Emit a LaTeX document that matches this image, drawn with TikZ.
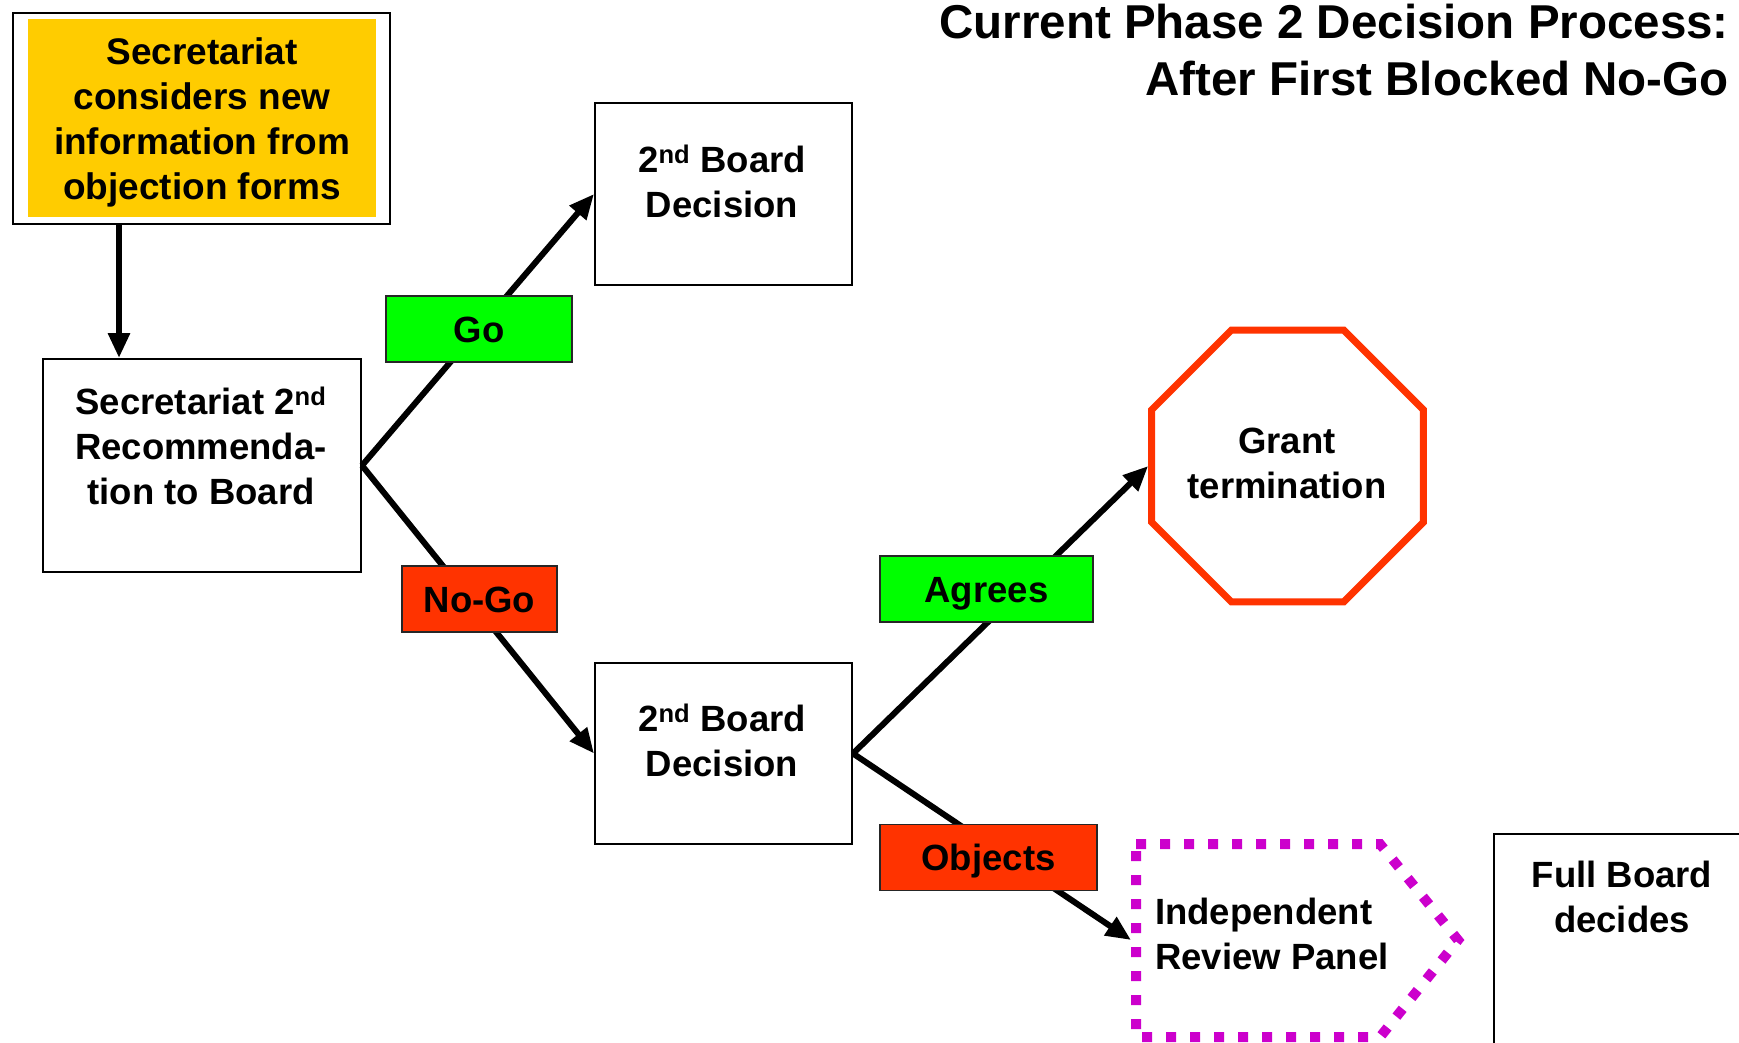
\documentclass[tikz,border=0pt]{standalone}
\usepackage{fontspec}
\setmainfont{Liberation Sans}
\usepackage{graphicx}
\usetikzlibrary{arrows.meta,shapes.geometric}
\definecolor{gold}{HTML}{FFCC00}
\definecolor{lgreen}{HTML}{00FF00}
\definecolor{rorange}{HTML}{FF3300}
\definecolor{mag}{HTML}{CC00CC}
\tikzset{
 box/.style={draw=black, line width=2pt, fill=white, inner sep=0pt, anchor=north west},
 txt/.style={font=\bfseries\fontsize{36.5}{45}\selectfont, align=center, inner sep=0pt},
 lab/.style={draw=black!85, line width=1.8pt, font=\bfseries\fontsize{36.5}{42}\selectfont, inner sep=0pt, text height=26.5pt, text depth=0pt, minimum height=66pt},
 arr/.style={line width=6pt, -{Triangle[length=25pt,width=21pt]}},
 title/.style={font=\bfseries\fontsize{47.5}{57}\selectfont, anchor=base east, inner sep=0pt},
}
\begin{document}
\begin{tikzpicture}[x=1pt,y=-1pt]
\path[use as bounding box, clip] (0,0) rectangle (1739,1042);
\fill[white] (0,0) rectangle (1739,1042);
% title
\node[title] (title1) at (1729,38) {Current Phase 2 Decision Process:};
\node[title] (title2) at (1729,95) {After First Blocked No-Go};
% top box
\node[box, minimum width=377pt, minimum height=211pt] (top) at (12,12) {};
\node[fill=gold, inner sep=0pt, anchor=north west, minimum width=348pt, minimum height=198pt] (topfill) at (28,19) {};
\node[txt, font=\bfseries\fontsize{37}{45}\selectfont] (topt) at (202,122.5) {Secretariat\\considers new\\information from\\objection forms};
% recommendation box
\node[box, minimum width=318pt, minimum height=213pt] (rec) at (42,358) {};
\node[txt] (rect) at (201,446) {Secretariat 2\textsuperscript{nd}\\Recommenda-\\tion to Board};
% board decision boxes
\node[box, minimum width=257pt, minimum height=182pt] (b1) at (594,102) {};
\node[txt] (b1t) at (722,181) {2\textsuperscript{nd} Board\\Decision};
\node[box, minimum width=257pt, minimum height=181pt] (b2) at (594,662) {};
\node[txt] (b2t) at (722,740) {2\textsuperscript{nd} Board\\Decision};
% octagon
\node[regular polygon, regular polygon sides=8, draw=rorange, line width=7pt, minimum size=294pt, inner sep=0pt] (oct) at (1287.5,466) {};
\node[txt] (octt) at (1287,463) {Grant\\termination};
% independent review panel
\draw[mag, line width=10pt, dash pattern=on 10pt off 14pt] (1136,844) -- (1380,844) -- (1458,940) -- (1380,1037) -- (1136,1037) -- cycle;
\coordinate (irpw) at (1131,940);
\node[txt, align=left, anchor=west] (irpt) at (1155,934) {Independent\\Review Panel};
% full board
\node[box, minimum width=400pt, minimum height=300pt] (fb) at (1493,833) {};
\node[txt] (fbt) at (1622,896.5) {Full Board\\decides};
% connectors
\draw[arr] ([xshift=107pt]top.south west) -- ([xshift=77pt]rec.north west);
\draw[arr] (rec.east) -- (b1.west);
\draw[arr] (rec.east) -- (b2.west);
\draw[arr] (b2.east) -- (oct.west);
\draw[arr] (b2.east) -- (irpw);
% labels
\node[lab, fill=lgreen, minimum width=186pt] (go) at (479,329) {Go};
\node[lab, fill=rorange, minimum width=155pt] (nogo) at (479.5,599) {No-Go};
\node[lab, fill=lgreen, minimum width=213pt] (agr) at (986.5,589) {Agrees};
\node[lab, fill=rorange, minimum width=217pt] (obj) at (988.5,857.5) {Objects};
\end{tikzpicture}
\end{document}
